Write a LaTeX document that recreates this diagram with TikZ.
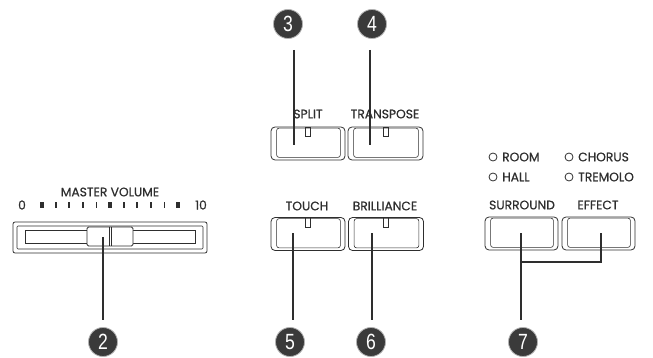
\documentclass[tikz,border=0pt]{standalone}
\usepackage{fontspec}
\setmainfont{Poppins}[FakeBold=0.7]
\newfontfamily\numfont{Liberation Sans}
\definecolor{ink}{HTML}{2E2E2E}
\definecolor{badgefill}{HTML}{3A3A3A}
\begin{document}
\begin{tikzpicture}[x=1pt,y=-1pt,
  lbl/.style={font=\fontsize{12.3}{12}\selectfont, text=ink, inner sep=0pt},
  badge/.style={circle, fill=badgefill, draw=gray!60, line width=0.8pt, minimum size=29pt, inner sep=0pt, text=white, font=\numfont\fontsize{22}{22}\selectfont},
  btn/.style={draw=ink, line width=0.8pt, rounded corners=4pt, minimum height=33pt, inner sep=0pt},
  btninner/.style={draw=ink, line width=0.6pt, rounded corners=2.5pt},
  wire/.style={draw=ink, line width=1.4pt},
  led/.style={circle, draw=ink, line width=0.8pt, minimum size=8pt, inner sep=0pt},
  slot/.style={draw=ink, line width=0.6pt}
]
\useasboundingbox (0,0) rectangle (653,358);

% ---------- buttons ----------
\foreach \n/\cx/\cy/\w in {split/308/143.5/74, transpose/385.5/143.5/75, touch/308/234/74, brilliance/386/234/75, surround/521.5/233.5/73, effect/598.5/233.5/73}{
  \node[btn, minimum width=\w pt] (\n) at (\cx,\cy) {};
  \draw[btninner] ([shift={(6,1.5)}]\n.north west) rectangle ([shift={(-5,-3)}]\n.south east);
}
% slots
\foreach \n in {split, transpose, touch, brilliance}{
  \draw[slot] ([shift={(-2.5,0.5)}]\n.north) rectangle ([shift={(2.5,10)}]\n.north);
}

% ---------- labels ----------
\node[lbl] (lsplit) at (308,114) {SPLIT};
\node[lbl] (ltransp) at (385,114) {TRANSPOSE};
\node[lbl] (ltouch) at (307,206) {TOUCH};
\node[lbl] (lbrill) at (385,206) {BRILLIANCE};
\node[lbl] (lsurr) at (522,205) {SURROUND};
\node[lbl] (leff) at (598,205) {EFFECT};
\node[lbl] (lmaster) at (110,192) {MASTER VOLUME};
\node[lbl] (lzero) at (22,205) {0};
\node[lbl] (lten) at (201,205) {10};

% LEDs
\node[led] (droom) at (493,157) {};
\node[led] (dchorus) at (569,157) {};
\node[led] (dhall) at (493,177) {};
\node[led] (dtrem) at (569,177) {};
\node[lbl, anchor=west] (lroom) at (502,157) {ROOM};
\node[lbl, anchor=west] (lchorus) at (578,157) {CHORUS};
\node[lbl, anchor=west] (lhall) at (502,177) {HALL};
\node[lbl, anchor=west] (ltrem) at (578,177) {TREMOLO};

% ---------- master volume slider ----------
\foreach \i in {0,...,10}{
  \pgfmathsetmacro{\tx}{42+13.6*\i}
  \ifnum\i=0 \def\tw{3.2}\else\ifnum\i=5 \def\tw{3.2}\else\ifnum\i=10 \def\tw{3.2}\else\def\tw{1.8}\fi\fi\fi
  \fill[ink] (\tx-\tw/2,202) rectangle (\tx+\tw/2,208.5);
}
\draw[ink, line width=0.8pt, rounded corners=2pt] (13,222) rectangle (207,253);
\draw[ink, line width=0.7pt, rounded corners=1pt] (17,226) rectangle (203,249);
\draw[ink, line width=0.7pt] (25,230) rectangle (195,243);
\node[draw=ink, fill=white, line width=0.8pt, rounded corners=1.5pt, minimum width=46pt, minimum height=19pt, inner sep=0pt] (knob) at (110,236.5) {};
\draw[ink, line width=0.6pt] (knob.north) ++(-1,0) -- ++(0,19);
\draw[ink, line width=0.6pt] (knob.north) ++(1,0) -- ++(0,19);

% ---------- badges ----------
\node[badge] (b2) at (103,342) {\scalebox{0.8}[1]{2}};
\node[badge] (b3) at (288,24) {\scalebox{0.8}[1]{3}};
\node[badge] (b4) at (372,24) {\scalebox{0.8}[1]{4}};
\node[badge] (b5) at (290,342) {\scalebox{0.8}[1]{5}};
\node[badge] (b6) at (371,342) {\scalebox{0.8}[1]{6}};
\node[badge] (b7) at (523,342) {\scalebox{0.8}[1]{7}};

% ---------- connector endpoints ----------
\coordinate (c2) at (103,237);
\coordinate (c3) at (294,145);
\coordinate (c4) at (370,145);
\coordinate (c5) at (293,233);
\coordinate (c6) at (372,233);
\coordinate (c7a) at (521,233);
\coordinate (c7b) at (601,233);
\coordinate (j7) at (521,262);

% ---------- connectors ----------
\draw[wire, shorten >=7pt] (c2) -- (b2.north -| c2);
\draw[wire, shorten <=11pt] (b3.south -| c3) -- (c3);
\draw[wire, shorten <=11pt] (b4.south -| c4) -- (c4);
\draw[wire, shorten >=7pt] (c5) -- (b5.north -| c5);
\draw[wire, shorten >=7pt] (c6) -- (b6.north -| c6);
\draw[wire] (c7a) -- (j7) -- (j7 -| c7b) -- (c7b);
\draw[wire, shorten >=7pt] (j7) -- (b7.north -| j7);
\end{tikzpicture}
\end{document}
